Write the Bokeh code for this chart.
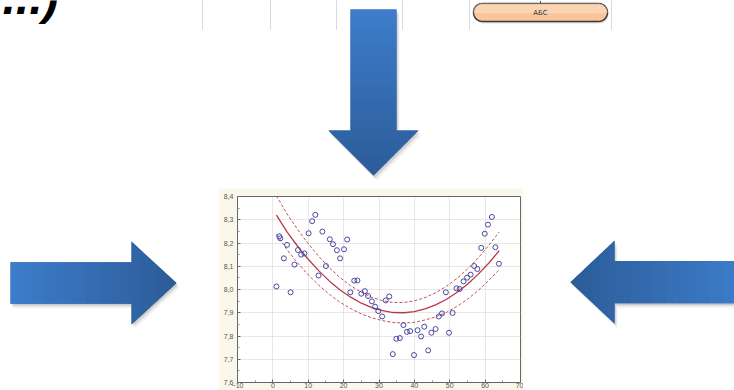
import numpy as np
from bokeh.plotting import figure
from bokeh.models import Range1d, FixedTicker
from bokeh.layouts import column, row
from bokeh.core.properties import value
from bokeh.embed import file_html
from bokeh.resources import INLINE

# ---------------- chart data ----------------
x_points = [1.0, 1.8, 2.1, 3.1, 4.0, 5.0, 6.1, 7.1, 8.0, 8.9, 10.1, 11.1, 12.0, 12.9, 14.0,
            15.0, 16.1, 17.0, 18.1, 19.0, 20.1, 21.0, 21.9, 23.0, 23.9, 25.0, 26.0, 26.9, 28.0,
            28.9, 29.8, 30.9, 31.9, 32.9, 33.9, 34.9, 35.9, 36.9, 37.9, 38.8, 39.9, 40.9, 41.9,
            42.8, 43.9, 44.8, 46.0, 46.9, 47.8, 48.9, 49.8, 50.8, 51.9, 52.8, 53.9, 54.9, 55.9,
            56.9, 57.8, 58.9, 59.9, 60.8, 61.9, 62.9, 63.9]
y_points = [8.013, 8.229, 8.220, 8.134, 8.192, 7.988, 8.107, 8.170, 8.150, 8.155, 8.242, 8.294,
            8.321, 8.060, 8.249, 8.101, 8.216, 8.195, 8.169, 8.134, 8.173, 8.215, 7.988, 8.038,
            8.039, 7.982, 7.993, 7.972, 7.949, 7.926, 7.907, 7.884, 7.953, 7.970, 7.722, 7.788,
            7.791, 7.847, 7.818, 7.821, 7.718, 7.825, 7.798, 7.840, 7.738, 7.814, 7.830, 7.884,
            7.897, 7.988, 7.814, 7.899, 8.005, 8.002, 8.035, 8.051, 8.064, 8.101, 8.088, 8.179,
            8.240, 8.279, 8.312, 8.182, 8.111]

fit_x = [1, 4, 7, 10, 13, 16, 19, 22, 25, 28, 31, 34, 37, 40, 43, 46, 49, 52, 55, 58, 61, 64]
fit_y = [8.320, 8.248, 8.186, 8.130, 8.080, 8.036, 7.998, 7.967, 7.941, 7.922, 7.909, 7.901,
         7.900, 7.905, 7.917, 7.934, 7.957, 7.987, 8.023, 8.065, 8.113, 8.167]
upper_y = [8.403, 8.325, 8.258, 8.197, 8.142, 8.093, 8.051, 8.016, 7.988, 7.966, 7.952, 7.944,
           7.944, 7.951, 7.965, 7.986, 8.013, 8.047, 8.088, 8.135, 8.189, 8.248]
lower_y = [8.237, 8.171, 8.114, 8.063, 8.018, 7.979, 7.945, 7.918, 7.895, 7.878, 7.866, 7.858,
           7.856, 7.859, 7.869, 7.882, 7.901, 7.927, 7.958, 7.995, 8.038, 8.086]

x_ticks = [-10, 0, 10, 20, 30, 40, 50, 60, 70]
x_minor = [-5, 5, 15, 25, 35, 45, 55, 65]
y_ticks = [7.6, 7.7, 7.8, 7.9, 8.0, 8.1, 8.2, 8.3, 8.4]
y_tick_labels = ["7,6", "7,7", "7,8", "7,9", "8,0", "8,1", "8,2", "8,3", "8,4"]
y_minor = [7.65, 7.75, 7.85, 7.95, 8.05, 8.15, 8.25, 8.35]

box_text = "АБС"
top_text = "...)"

# ---------------- helpers for the slide decoration ----------------
LIGHT = np.array([61, 125, 203])
DARK = np.array([44, 92, 152])


def hexc(rgb):
    r, g, b = [int(round(v)) for v in rgb]
    return "#%02x%02x%02x" % (r, g, b)


def decor(w, h, x0, y0):
    f = figure(width=w, height=h, x_range=Range1d(x0, x0 + w), y_range=Range1d(y0 + h, y0),
               output_backend="svg", toolbar_location=None,
               x_axis_location=None, y_axis_location=None, min_border=0)
    f.grid.visible = False
    f.outline_line_color = None
    f.background_fill_color = "white"
    f.border_fill_color = "white"
    return f


def draw_arrow(f, u0, uh, ut, s, h, to_xy, n=24):
    base = [(u0, -s), (uh, -s), (uh, -h), (ut, 0), (uh, h), (uh, s), (u0, s)]
    bx = [to_xy(u, v)[0] for u, v in base]
    by = [to_xy(u, v)[1] for u, v in base]
    for dx, dy, a in [(1, 2, 0.09), (2, 3, 0.07), (3, 5, 0.05)]:
        f.patch([x + dx for x in bx], [y + dy for y in by], fill_color="#000000",
                fill_alpha=a, line_color=None)
    f.patch(bx, by, fill_color=hexc((LIGHT + DARK) / 2), line_color=None)
    bounds = sorted(set(list(np.linspace(u0, ut, n + 1)) + [uh]))
    xs, ys, cols = [], [], []
    for a, b in zip(bounds[:-1], bounds[1:]):
        t = ((a + b) / 2 - u0) / (ut - u0)
        col = hexc(LIGHT + (DARK - LIGHT) * t)
        if b <= uh + 1e-9:
            be = min(b + 0.7, uh)
            pts = [(a, -s), (be, -s), (be, s), (a, s)]
        else:
            be = min(b + 0.7, ut)
            ha = h * (ut - a) / (ut - uh)
            hb = h * (ut - be) / (ut - uh)
            pts = [(a, -ha), (be, -hb), (be, hb), (a, ha)]
        xs.append([to_xy(u, v)[0] for u, v in pts])
        ys.append([to_xy(u, v)[1] for u, v in pts])
        cols.append(col)
    f.patches(xs, ys, fill_color=cols, line_color=None)


# ---------------- top strip (page y 0..188) ----------------
top = decor(734, 188, 0, 0)
for lx in [202, 270, 336, 402, 469, 611]:
    top.line([lx, lx], [0, 30], line_color="#a9b5cc", line_width=1, line_dash="1 1")
top.line([540, 540], [0, 3], line_color="#555555", line_width=1)
top.text(x=[2], y=[-3], text=[top_text], text_font=value("Liberation Sans"),
         text_font_style="bold italic", text_font_size="48px", text_baseline="alphabetic",
         text_color="black")
r = 9
cy = 12
ang = np.linspace(np.pi / 2, 3 * np.pi / 2, 20)
left_arc = [(482 + r * np.cos(t), cy - r * np.sin(t)) for t in ang]
ang2 = np.linspace(-np.pi / 2, np.pi / 2, 20)
right_arc = [(598 + r * np.cos(t), cy - r * np.sin(t)) for t in ang2]
pill = left_arc + right_arc
top.patch([p[0] + 1 for p in pill], [p[1] + 2 for p in pill], fill_color="#000000",
          fill_alpha=0.12, line_color=None)
top.patch([p[0] for p in pill], [p[1] for p in pill], fill_color="#f8c69a",
          line_color="#3a3a3a", line_width=1.5)
top.patch([p[0] for p in pill if p[1] <= cy + 1], [p[1] for p in pill if p[1] <= cy + 1],
          fill_color="#fde0c4", fill_alpha=0.6, line_color=None)
top.text(x=[540], y=[12.5], text=[box_text], text_font=value("DejaVu Sans"),
         text_font_size="7px", text_align="center", text_baseline="middle",
         text_color="#333333")
draw_arrow(top, 9, 130, 175, 23, 45, lambda u, v: (373 + v, u))

# ---------------- bottom left / right (page y 188..390) ----------------
left = decor(218, 202, 0, 188)
draw_arrow(left, 10, 131, 176, 22.5, 45, lambda u, v: (u, 282 + v))

right = decor(211, 202, 523, 188)
draw_arrow(right, -745, -614, -570, 23, 45, lambda u, v: (-u, 281 + v))

# ---------------- the chart (page x 218..523, y 188..390) ----------------
c = figure(width=305, height=202, x_range=Range1d(-10, 70), y_range=Range1d(7.6, 8.4),
           output_backend="svg", toolbar_location=None,
           min_border_left=19, min_border_right=3, min_border_top=8, min_border_bottom=8)
c.border_fill_color = "#fbf7ea"
c.background_fill_color = "white"
c.outline_line_color = "#666666"
c.xaxis.ticker = FixedTicker(ticks=x_ticks, minor_ticks=x_minor)
c.yaxis.ticker = FixedTicker(ticks=y_ticks, minor_ticks=y_minor)
c.yaxis.major_label_overrides = dict(zip(y_ticks, y_tick_labels))
for ax in (c.xaxis, c.yaxis):
    ax.axis_line_color = None
    ax.major_tick_in = 3
    ax.major_tick_out = 0
    ax.minor_tick_in = 2
    ax.minor_tick_out = 0
    ax.major_tick_line_color = "#666666"
    ax.minor_tick_line_color = "#888888"
    ax.major_label_text_font = "Liberation Sans"
    ax.major_label_text_font_size = "7px"
    ax.major_label_text_color = "#555555"
c.xaxis.major_label_standoff = 0
c.yaxis.major_label_standoff = 4
c.grid.grid_line_color = "#cfcfcf"
c.grid.grid_line_dash = "1 1"

c.line(fit_x, upper_y, line_color="#c2505e", line_width=1, line_dash="3 2")
c.line(fit_x, lower_y, line_color="#c2505e", line_width=1, line_dash="3 2")
c.line(fit_x, fit_y, line_color="#b83848", line_width=1.3)
c.scatter(x_points, y_points, marker="circle", size=5, fill_color=None,
          line_color="#4848a0", line_width=1)

layout = column(top, row(left, c, right))
open("out.html", "w").write(file_html(layout, INLINE))
